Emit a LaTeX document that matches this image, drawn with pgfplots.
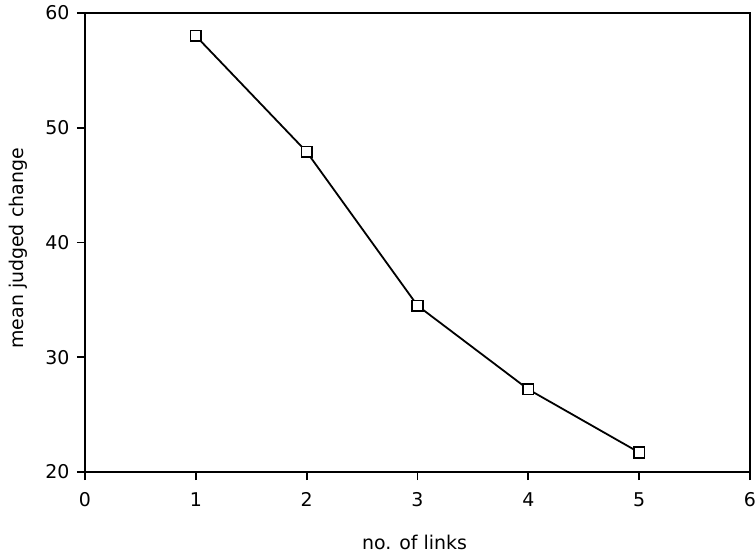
\documentclass[border=0pt]{standalone}
\usepackage{pgfplots}
\pgfplotsset{compat=1.18}
\usepackage{fontspec}
\setmainfont{DejaVu Sans}
\begin{document}
\begin{tikzpicture}
\begin{axis}[
  anchor=origin, at={(0,0)},
  scale only axis,
  width=665bp, height=459bp,
  xmin=0, xmax=6, ymin=20, ymax=60,
  xtick={0,1,2,3,4,5,6},
  ytick={20,30,40,50,60},
  tick align=outside,
  xtick pos=left, ytick pos=left,
  major tick length=8bp,
  axis line style={line width=1.8bp},
  tick style={line width=1.8bp, black},
  /pgf/number format/assume math mode=true,
  tick label style={font=\fontsize{19}{21}\selectfont},
  xticklabel style={anchor=north, yshift=-9bp},
  yticklabel style={anchor=east, xshift=-4bp},
  label style={font=\fontsize{19}{22}\selectfont},
  xlabel={no. of links},
  ylabel={mean judged change},
  xlabel style={at={(axis description cs:0.5,0)}, anchor=base, yshift=-77bp, xshift=-3bp},
  ylabel style={at={(axis description cs:0,0.5)}, anchor=base, yshift=61bp, xshift=-6bp},
]
\addplot[black, line width=1.8bp, mark=square*,
  mark options={fill=white, line width=1.5bp}, mark size=5.3bp]
  coordinates {(1,58.0) (2,47.9) (3,34.5) (4,27.2) (5,21.7)};
\end{axis}
% page frame: the axis box sits 85bp from the left and 81bp from the bottom
\pgfresetboundingbox
\path[use as bounding box] (-85bp,-81bp) rectangle (671bp,472bp);
\end{tikzpicture}
\end{document}
